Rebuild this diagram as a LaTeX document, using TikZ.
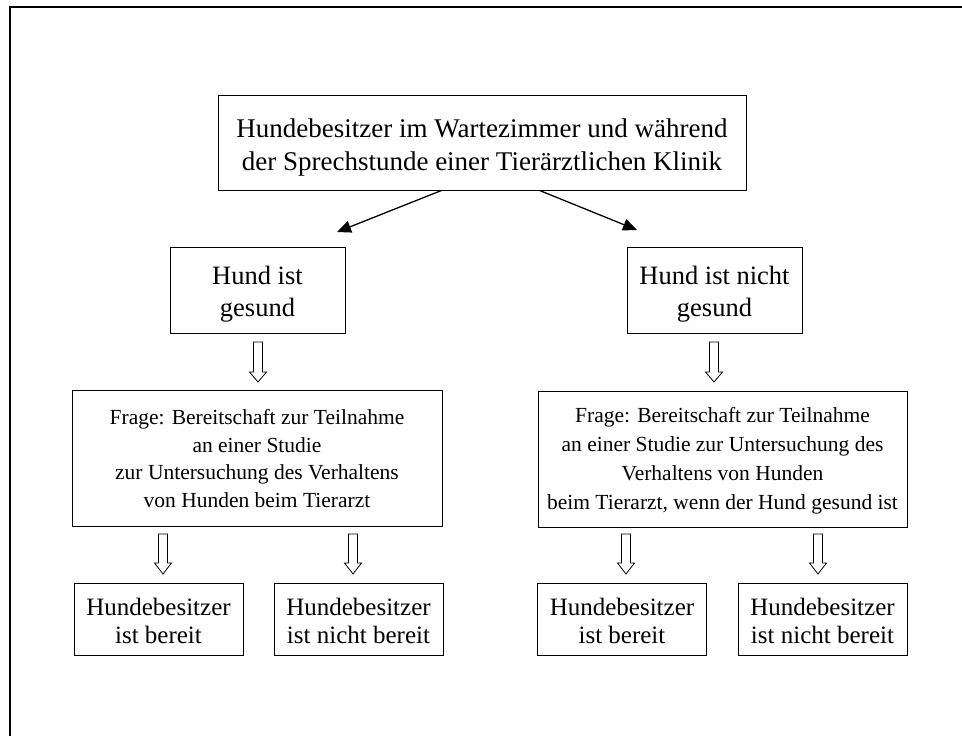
\documentclass[tikz,border=0pt]{standalone}
\usepackage{fontspec}
\setmainfont{Liberation Serif}
\usetikzlibrary{arrows.meta,calc}
\tikzset{
 box/.style={draw=black, line width=0.9pt, inner sep=0pt, align=center, text=black},
 bigtext/.style={font=\fontsize{27}{32.5}\selectfont},
 hundtext/.style={font=\fontsize{26.5}{32}\selectfont},
 midtext/.style={font=\fontsize{21.5}{27.5}\selectfont},
 midtextr/.style={font=\fontsize{21.5}{29}\selectfont},
 smalltext/.style={font=\fontsize{25}{28.5}\selectfont},
 txt/.style={align=center, inner sep=0pt, text=black},
 link/.style={line width=1.3pt, -{Triangle[length=14pt,width=12pt]}},
 hollow/.style={draw=black, line width=0.8pt, fill=white},
}
\newcommand{\hollowarrow}[4]{%
 \draw[hollow] (#1-4.5,#2) -- (#1+4.5,#2) -- (#1+4.5,#3) -- (#1+8.5,#3) -- (#1,#4) -- (#1-8.5,#3) -- (#1-4.5,#3) -- cycle;}
\begin{document}
\begin{tikzpicture}[x={(1pt,0)},y={(0,-1pt)}]
\useasboundingbox (0,0) rectangle (962,736);
\clip (0,0) rectangle (962,736);
\draw[line width=2pt] (10,760) -- (10,7) -- (980,7);

\node[box,minimum width=528pt,minimum height=95pt,
  label={[txt,bigtext,yshift=-5pt]center:{Hundebesitzer im Wartezimmer und während\\der Sprechstunde einer Tierärztlichen Klinik}}] (top) at (482,142.5) {};

\node[box,minimum width=175pt,minimum height=86pt,
  label={[txt,hundtext,yshift=-4pt]center:{Hund ist\\gesund}}] (hg) at (257.5,290) {};
\node[box,minimum width=175pt,minimum height=86pt,
  label={[txt,hundtext,yshift=-4pt]center:{Hund ist nicht\\gesund}}] (hng) at (714.5,290) {};

\node[box,minimum width=370pt,minimum height=136pt,
  label={[txt,midtext]center:{Frage: Bereitschaft zur Teilnahme\\an einer Studie\\zur Untersuchung des Verhaltens\\von Hunden beim Tierarzt}}] (fl) at (257,458.5) {};
\node[box,minimum width=369pt,minimum height=136pt,
  label={[txt,midtextr,yshift=-2pt]center:{Frage: Bereitschaft zur Teilnahme\\an einer Studie zur Untersuchung des\\Verhaltens von Hunden\\beim Tierarzt, wenn der Hund gesund ist}}] (fr) at (722.5,459) {};

\node[box,minimum width=169pt,minimum height=72pt,
  label={[txt,smalltext,yshift=-2pt]center:{Hundebesitzer\\ist bereit}}] (b1) at (158.5,619) {};
\node[box,minimum width=169pt,minimum height=72pt,
  label={[txt,smalltext,yshift=-2pt]center:{Hundebesitzer\\ist nicht bereit}}] (b2) at (358.5,619) {};
\node[box,minimum width=169pt,minimum height=72pt,
  label={[txt,smalltext,yshift=-2pt]center:{Hundebesitzer\\ist bereit}}] (b3) at (622,619) {};
\node[box,minimum width=169pt,minimum height=72pt,
  label={[txt,smalltext,yshift=-2pt]center:{Hundebesitzer\\ist nicht bereit}}] (b4) at (822.5,619) {};

\coordinate (tl) at (337,232);
\coordinate (tr) at (637,230);
\draw[link] ($(top.south west)+(224,0)$) -- (tl);
\draw[link] ($(top.south west)+(322,0)$) -- (tr);

\hollowarrow{258}{342}{372}{382}
\hollowarrow{714}{342}{372}{382}
\hollowarrow{163}{534}{563}{574}
\hollowarrow{353}{534}{563}{574}
\hollowarrow{626}{534}{563}{574}
\hollowarrow{818}{534}{563}{574}
\end{tikzpicture}
\end{document}
